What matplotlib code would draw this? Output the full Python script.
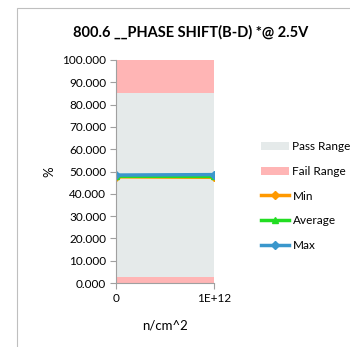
import matplotlib
matplotlib.use("Agg")
import matplotlib.pyplot as plt
import numpy as np
from matplotlib.patches import Patch, Rectangle
from matplotlib.lines import Line2D

plt.rcParams["font.family"] = ["Lato", "DejaVu Sans"]

# data
categories = ["0", "1E+12"]
fail_low   = [2.5, 2.5]
pass_band  = [82.5, 82.5]
fail_high  = [15.0, 15.0]
min_vals   = [47.6, 47.4]
avg_vals   = [47.9, 47.8]
max_vals   = [48.4, 48.6]
y_ticks    = np.arange(0, 101, 10)

PASS_C = "#e5eaea"
FAIL_C = "#ffb5b5"
MIN_C  = "#ff9900"
AVG_C  = "#22dd22"
MAX_C  = "#3a97cc"

fig = plt.figure(figsize=(3.5, 3.47), dpi=100)
# chart border (only top and left edges fall inside the image)
top = 1 - 8 / 347
fig.patches.append(Rectangle((17 / 350, -0.5), 1.5, top + 0.5,
                             transform=fig.transFigure, fill=False,
                             edgecolor="#bfbfbf", linewidth=0.8))
ax = fig.add_axes([116 / 350, 1 - 283 / 347, 98 / 350, 223 / 347])

x = np.arange(len(categories))
ax.stackplot(x, fail_low, pass_band, fail_high, colors=[FAIL_C, PASS_C, FAIL_C], linewidth=0)

ax.plot(x, min_vals, color=MIN_C, lw=2.5, marker="D", ms=4)
ax.plot(x, avg_vals, color=AVG_C, lw=2.5, marker="^", ms=5)
ax.plot(x, max_vals, color=MAX_C, lw=2.5, marker="D", ms=4)

ax.set_xlim(0, 1)
ax.set_ylim(0, 100)
ax.set_yticks(y_ticks)
ax.set_yticklabels([f"{v:.3f}" for v in y_ticks], fontsize=8.5)
ax.set_xticks(x)
ax.set_xticklabels(categories, fontsize=8.5)
for s in ["top", "right"]:
    ax.spines[s].set_visible(False)
for s in ["left", "bottom"]:
    ax.spines[s].set_color("#a0a0a0")
ax.tick_params(color="#a0a0a0", length=4, pad=3)

ax.set_ylabel("%", fontsize=9.5, labelpad=5)
ax.set_xlabel("n/cm^2", fontsize=9.5, labelpad=11)
fig.text(0.545, 1 - 32 / 347, "800.6 __PHASE SHIFT(B-D) *@ 2.5V", ha="center", va="center",
         fontsize=10.5, fontweight="bold")

handles = [
    Patch(facecolor=PASS_C, label="Pass Range"),
    Patch(facecolor=FAIL_C, label="Fail Range"),
    Line2D([], [], color=MIN_C, lw=2.5, marker="D", ms=4, label="Min"),
    Line2D([], [], color=AVG_C, lw=2.5, marker="^", ms=5, label="Average"),
    Line2D([], [], color=MAX_C, lw=2.5, marker="D", ms=4, label="Max"),
]
fig.legend(handles=handles, loc="center left", bbox_to_anchor=(250 / 350, 1 - 196 / 347),
           frameon=False, fontsize=8.5, labelspacing=1.15, handlelength=2.4, handletextpad=0.3)

fig.savefig("out.png", dpi=100)
